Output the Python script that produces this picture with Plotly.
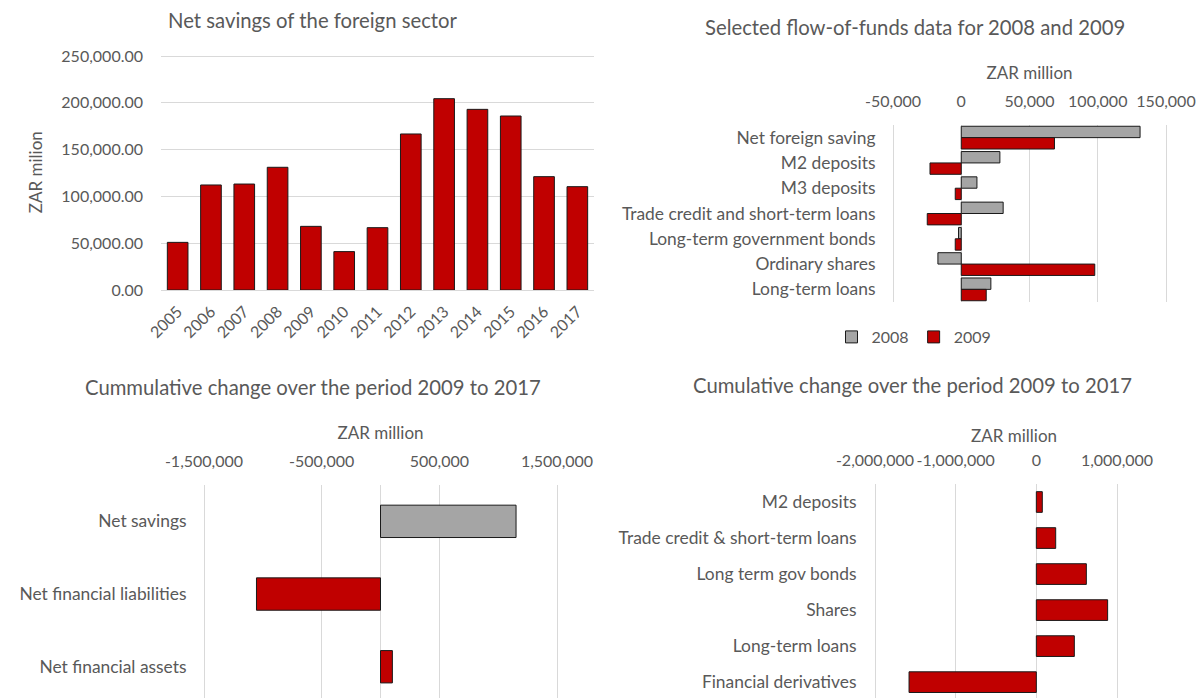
import plotly.graph_objects as go

# ---- data -------------------------------------------------------------
years = [str(y) for y in range(2005, 2018)]
net_savings = [50900, 112200, 113200, 131100, 68000, 41000, 66600,
               166700, 204400, 193000, 185900, 121100, 110400]

fof_categories = ["Net foreign saving", "M2 deposits", "M3 deposits",
                  "Trade credit and short-term loans",
                  "Long-term government bonds", "Ordinary shares",
                  "Long-term loans"]
fof_2008 = [131000, 28300, 11500, 30700, -2000, -17100, 21700]
fof_2009 = [68300, -22900, -4400, -24900, -4400, 97800, 18300]

cum_categories = ["Net savings", "Net financial liabilities",
                  "Net financial assets"]
cum_values = [1152000, -1054000, 101000]

inst_categories = ["M2 deposits", "Trade credit & short-term loans",
                   "Long term gov bonds", "Shares", "Long-term loans",
                   "Financial derivatives"]
inst_values = [74000, 240000, 620000, 884000, 471000, -1578000]

fof_ticks = [-50000, 0, 50000, 100000, 150000]
cum_ticks = [-1500000, -500000, 500000, 1500000]
inst_ticks = [-2000000, -1000000, 0, 1000000]

# ---- style ------------------------------------------------------------
RED = "#C00000"
GREY = "#A5A5A5"
EDGE = dict(color="#1a1a1a", width=1)
TXT = "#595959"
GRID = "#D9D9D9"
FONT = "Lato"
W, H = 1199, 698


def px_x(x):
    return x / W


def px_y(y):
    return 1 - y / H


def fmt(v):
    return f"{v:,.0f}"


def padded(lo, hi, left_px, right_px, pad=1.5):
    """Widen a value range by `pad` pixels on each side so the outer
    gridlines stay inside the plotting area."""
    per_px = (hi - lo) / (right_px - left_px)
    return [lo - pad * per_px, hi + pad * per_px], [px_x(left_px - pad), px_x(right_px + pad)]


fig = go.Figure()

# Net savings of the foreign sector (vertical bars)
fig.add_trace(go.Bar(x=years, y=net_savings, marker=dict(color=RED, line=EDGE),
                     width=0.62, showlegend=False, xaxis="x", yaxis="y"))

# Selected flow-of-funds data (grouped horizontal bars)
fig.add_trace(go.Bar(y=fof_categories, x=fof_2008, orientation="h", name="2008",
                     marker=dict(color=GREY, line=EDGE), xaxis="x2", yaxis="y2"))
fig.add_trace(go.Bar(y=fof_categories, x=fof_2009, orientation="h", name="2009",
                     marker=dict(color=RED, line=EDGE), xaxis="x2", yaxis="y2"))

# Cumulative change: savings / liabilities / assets
cum_colors = [GREY, RED, RED]
fig.add_trace(go.Bar(y=cum_categories, x=cum_values, orientation="h",
                     marker=dict(color=cum_colors, line=EDGE), width=0.445,
                     showlegend=False, xaxis="x3", yaxis="y3"))

# Cumulative change by instrument
fig.add_trace(go.Bar(y=inst_categories, x=inst_values, orientation="h",
                     marker=dict(color=RED, line=EDGE), width=0.574,
                     showlegend=False, xaxis="x4", yaxis="y4"))

num_font = dict(family=FONT, size=16, color=TXT)
cat_font = dict(family=FONT, size=17.4, color=TXT)
axt_font = dict(family=FONT, size=17, color=TXT)

common = dict(automargin=False, ticks="", showline=False)

r2, d2 = padded(fof_ticks[0], fof_ticks[-1], 893, 1166)
r3, d3 = padded(cum_ticks[0], cum_ticks[-1], 204, 557)
r4, d4 = padded(inst_ticks[0], inst_ticks[-1], 875, 1117)

# chart 1 value axis: 0 at y=290 px, 250,000 at y=56 px (one px headroom)
y1_per_px = 250000 / (290 - 56)
y1_range = [0, 250000 + 1.5 * y1_per_px]

fig.update_layout(
    template="none",
    width=W, height=H,
    margin=dict(l=0, r=0, t=0, b=0, pad=0),
    paper_bgcolor="white", plot_bgcolor="white",
    font=dict(family=FONT, color=TXT, size=16),
    barmode="group", bargap=0.1, bargroupgap=0,
    legend=dict(orientation="h", x=px_x(914), xanchor="center",
                y=px_y(337), yanchor="middle", font=num_font,
                itemwidth=30, traceorder="normal"),
    # chart 1
    xaxis=dict(domain=[px_x(161), px_x(594)], anchor="y", type="category",
               tickangle=-45, tickfont=num_font, showgrid=False,
               automargin=False, ticks="", showline=True, linecolor=GRID,
               linewidth=1, ticklabelstandoff=5),
    yaxis=dict(domain=[px_y(290), px_y(56 - 1.5)], anchor="x", range=y1_range,
               dtick=50000, tickformat=",.2f", tickfont=num_font,
               gridcolor=GRID, gridwidth=1, zeroline=False,
               ticklabelstandoff=17,
               title=dict(text="ZAR milion", font=axt_font, standoff=14),
               **common),
    # chart 2
    xaxis2=dict(domain=d2, anchor="y2", side="top",
                range=r2, tickvals=fof_ticks,
                ticktext=[fmt(v) for v in fof_ticks], tickfont=num_font,
                gridcolor=GRID, zeroline=True, zerolinecolor=GRID,
                zerolinewidth=1, ticklabelstandoff=14,
                title=dict(text="ZAR million", font=axt_font, standoff=6),
                **common),
    yaxis2=dict(domain=[px_y(302), px_y(125)], anchor="x2",
                autorange="reversed", tickfont=cat_font, showgrid=False,
                ticklabelstandoff=15, **common),
    # chart 3
    xaxis3=dict(domain=d3, anchor="y3", side="top",
                range=r3, tickvals=cum_ticks,
                ticktext=[fmt(v) for v in cum_ticks], tickfont=num_font,
                gridcolor=GRID, zeroline=True, zerolinecolor=GRID,
                zerolinewidth=1, ticklabelstandoff=14,
                title=dict(text="ZAR million", font=axt_font, standoff=6),
                **common),
    yaxis3=dict(domain=[0, px_y(485)], anchor="x3", range=[2.43, -0.5],
                tickfont=cat_font, showgrid=False, ticklabelstandoff=15,
                **common),
    # chart 4
    xaxis4=dict(domain=d4, anchor="y4", side="top",
                range=r4, tickvals=inst_ticks,
                ticktext=[fmt(v) for v in inst_ticks], tickfont=num_font,
                tickangle=0, gridcolor=GRID, zeroline=True,
                zerolinecolor=GRID, zerolinewidth=1, ticklabelstandoff=14,
                **common),
    yaxis4=dict(domain=[0, px_y(484)], anchor="x4", range=[5.44, -0.5],
                tickfont=cat_font, showgrid=False, ticklabelstandoff=16,
                **common),
)

title_font = dict(family=FONT, size=20.3, color=TXT)
titles = [
    ("Net savings of the foreign sector", 313, 20),
    ("Selected flow-of-funds data for 2008 and 2009", 915, 27),
    ("Cummulative change over the period 2009 to 2017", 313, 387),
    ("Cumulative change over the period 2009 to 2017", 912, 385),
]
for text, x, y in titles:
    fig.add_annotation(text=text, x=px_x(x), y=px_y(y), xref="paper",
                       yref="paper", showarrow=False, font=title_font,
                       xanchor="center", yanchor="middle")

fig.add_annotation(text="ZAR million", x=px_x(1014), y=px_y(435), xref="paper",
                   yref="paper", showarrow=False, font=axt_font,
                   xanchor="center", yanchor="middle")

fig.write_html("out.html")
